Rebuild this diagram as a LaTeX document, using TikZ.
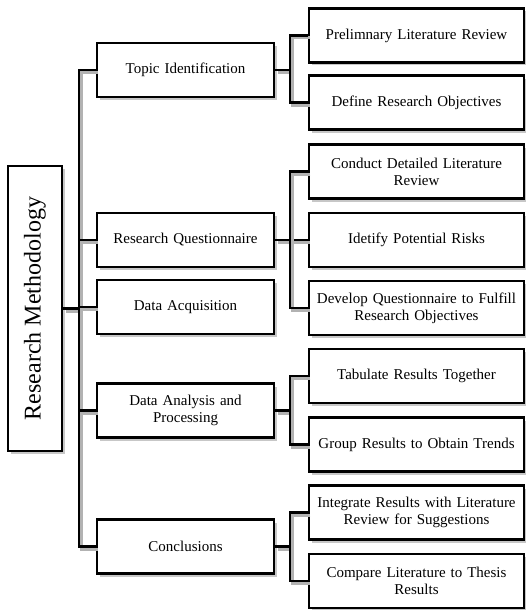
\documentclass[tikz,border=0pt]{standalone}
\usepackage{fontspec}
\setmainfont{Liberation Serif}
\usetikzlibrary{positioning,shadows}

\begin{document}
\begin{tikzpicture}[
  x={(1pt,0pt)}, y={(0pt,-1pt)},
  box/.style={draw=black, fill=white, line width=2.5pt, align=center,
    inner sep=2pt, drop shadow={shadow xshift=3pt, shadow yshift=-3pt,
    fill=black!40, opacity=0.55}},
  root/.style={box, minimum width=54pt, minimum height=285pt,
    font=\fontsize{24}{28}\selectfont},
  mid/.style={box, minimum width=177pt, minimum height=54pt, text width=172pt,
    font=\fontsize{15}{17}\selectfont},
  leaf/.style={box, minimum width=215pt, minimum height=54pt, text width=210pt,
    font=\fontsize{15}{17}\selectfont},
  ln/.style={line width=2.5pt,
    preaction={draw=black!30, line width=3pt,
      transform canvas={xshift=2.5pt, yshift=-2.5pt}}}]

\useasboundingbox (0,0) rectangle (526,610);

% trunk and branch positions
\coordinate (tk) at (79,0);
\coordinate (bx) at (290,0);

% root
\node[root] (rm) at (35,308.5) {\rotatebox{90}{Research Methodology}};

% first level
\node[mid] (tiB) at (185.5,70)    {Topic Identification};
\node[mid] (rqB) at (185.5,240)   {Research Questionnaire};
\node[mid] (daB) at (185.5,307)   {Data Acquisition};
\node[mid] (apB) at (185.5,410.5) {Data Analysis and\\Processing};
\node[mid] (coB) at (185.5,546.5) {Conclusions};

% second level
\node[leaf] (plr) at (416.5,35.5)  {Prelimnary Literature Review};
\node[leaf] (dro) at (416.5,102.5) {Define Research Objectives};
\node[leaf] (cdl) at (416.5,171.5) {Conduct Detailed Literature\\Review};
\node[leaf] (ipr) at (416.5,240)   {Idetify Potential Risks};
\node[leaf] (dqf) at (416.5,308)   {Develop Questionnaire to Fulfill\\Research Objectives};
\node[leaf] (trt) at (416.5,376)   {Tabulate Results Together};
\node[leaf] (grt) at (416.5,444.5) {Group Results to Obtain Trends};
\node[leaf] (irl) at (416.5,512.5) {Integrate Results with Literature\\Review for Suggestions};
\node[leaf] (clt) at (416.5,581)   {Compare Literature to Thesis\\Results};

% trunk
\draw[ln] (rm.east) -- (tk |- rm);
\draw[ln] (tiB.west) -| (tk |- coB) -- (coB.west);
\foreach \n in {rqB,daB,apB}
  \draw[ln] (tk |- \n) -- (\n.west);

% branches
\draw[ln] (tiB.east) -- (bx |- tiB);
\draw[ln] (plr.west) -| (bx |- tiB) |- (dro.west);
\draw[ln] (rqB.east) -- (ipr.west);
\draw[ln] (cdl.west) -| (bx |- rqB) |- (dqf.west);
\draw[ln] (apB.east) -- (bx |- apB);
\draw[ln] (trt.west) -| (bx |- apB) |- (grt.west);
\draw[ln] (coB.east) -- (bx |- coB);
\draw[ln] (irl.west) -| (bx |- coB) |- (clt.west);

\end{tikzpicture}
\end{document}
